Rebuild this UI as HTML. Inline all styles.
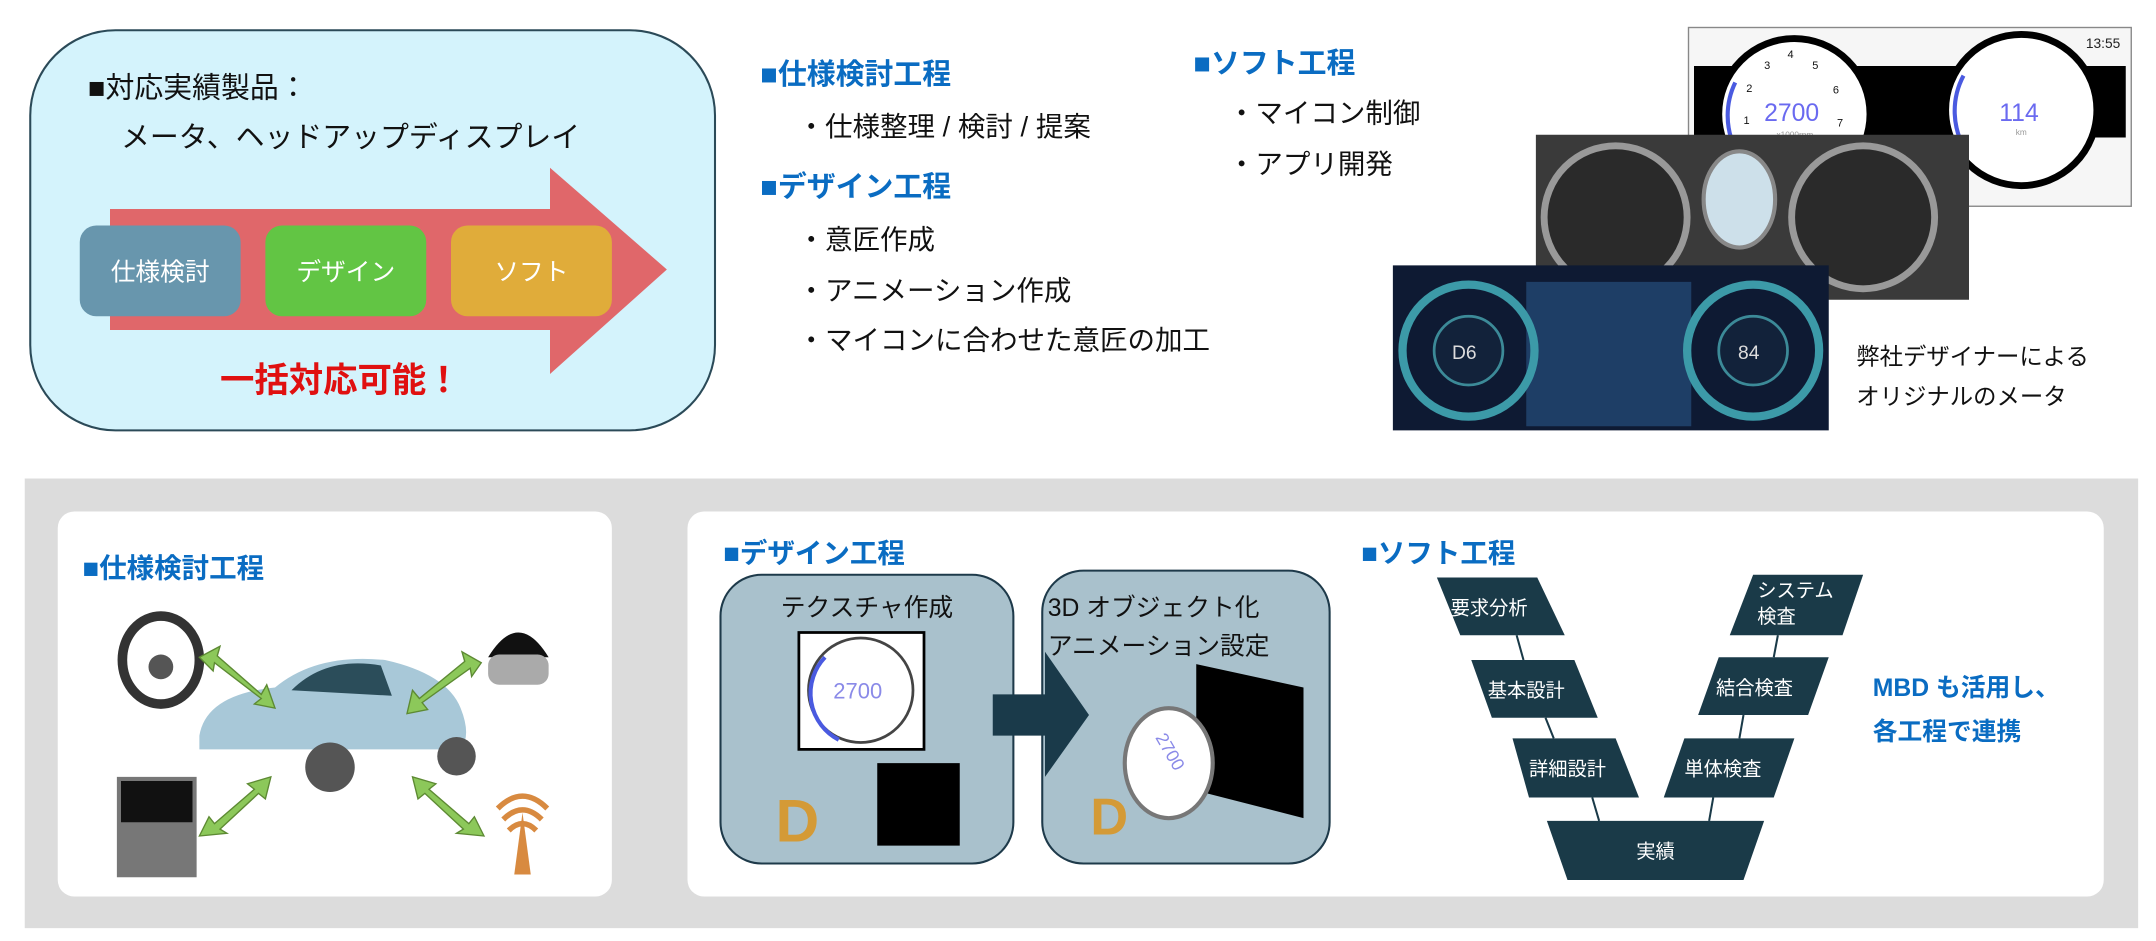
<!DOCTYPE html>
<html><head><meta charset="utf-8"><style>
body{margin:0;width:2156px;height:940px;overflow:hidden;background:#fff;font-family:"Liberation Sans","Noto Sans CJK JP",sans-serif}
#w{position:absolute;left:0;top:0;width:1568px;height:684px;transform:scale(1.375);transform-origin:0 0}
.a{position:absolute;white-space:nowrap}
.h{color:#0a6cc2;font-weight:bold;font-size:21px}
.t{font-size:20px;color:#111}
</style></head><body><div id="w">
<svg class="a" style="left:0;top:0" width="1568" height="684">
<rect x="22" y="22" width="498" height="291" rx="62" fill="#d4f3fc" stroke="#2b4a58" stroke-width="1.5"/>
<polygon points="80,152 400,152 400,122 485,196 400,272 400,240 80,240" fill="#e0676a"/>
<rect x="58" y="164" width="117" height="66" rx="12" fill="#6896ad"/>
<rect x="193" y="164" width="117" height="66" rx="12" fill="#62c544"/>
<rect x="328" y="164" width="117" height="66" rx="12" fill="#e0ac3a"/>
<!-- dashboards -->
<rect x="1228" y="20" width="322" height="130" fill="#f6f6f6" stroke="#888"/>
<rect x="1232" y="48" width="314" height="52" fill="#000"/>
<circle cx="1305" cy="83" r="55" fill="#fff" stroke="#000" stroke-width="5"/>
<path d="M1262,60 a55,55 0 0 0 0,48" stroke="#4a5ae0" stroke-width="3" fill="none"/>
<circle cx="1470" cy="80" r="55" fill="#fff" stroke="#000" stroke-width="5"/>
<path d="M1428,55 a55,55 0 0 0 2,55" stroke="#4a5ae0" stroke-width="3" fill="none"/>
<text x="1283" y="88" font-size="18" fill="#6a6af0">2700</text>
<text x="1292" y="100" font-size="6" fill="#999">x1000rpm</text>
<text x="1454" y="88" font-size="18" fill="#6a6af0">114</text>
<text x="1466" y="98" font-size="6" fill="#999">km</text>
<text x="1517" y="35" font-size="10" fill="#222">13:55</text>
<g font-size="8" fill="#111"><text x="1300" y="42">4</text><text x="1283" y="50">3</text><text x="1318" y="50">5</text><text x="1270" y="67">2</text><text x="1333" y="68">6</text><text x="1268" y="90">1</text><text x="1336" y="92">7</text></g>
<rect x="1117" y="98" width="315" height="120" fill="#3a3a3a"/>
<circle cx="1175" cy="158" r="52" fill="#2a2a2a" stroke="#999" stroke-width="5"/>
<circle cx="1355" cy="158" r="52" fill="#2a2a2a" stroke="#999" stroke-width="5"/>
<ellipse cx="1265" cy="145" rx="26" ry="35" fill="#cde0ea" stroke="#888" stroke-width="3"/>
<rect x="1013" y="193" width="317" height="120" fill="#0e1a33"/>
<rect x="1110" y="205" width="120" height="105" fill="#1e3e66"/>
<circle cx="1068" cy="255" r="48" fill="none" stroke="#3c9aa8" stroke-width="6"/>
<circle cx="1068" cy="255" r="25" fill="#12223a" stroke="#3c8a98" stroke-width="2"/>
<circle cx="1275" cy="255" r="48" fill="none" stroke="#3c9aa8" stroke-width="6"/>
<circle cx="1275" cy="255" r="25" fill="#12223a" stroke="#3c8a98" stroke-width="2"/>
<text x="1056" y="261" font-size="14" fill="#ddd">D6</text>
<text x="1264" y="261" font-size="14" fill="#ddd">84</text>
<!-- bottom -->
<rect x="18" y="348" width="1537" height="327" fill="#dcdcdc"/>
<rect x="42" y="372" width="403" height="280" rx="12" fill="#fff"/>
<rect x="500" y="372" width="1030" height="280" rx="12" fill="#fff"/>
<!-- car & devices -->
<ellipse cx="117" cy="480" rx="28" ry="32" fill="none" stroke="#333" stroke-width="7"/>
<circle cx="117" cy="485" r="9" fill="#555"/>
<path d="M355,478 q22,-36 44,0z" fill="#111"/><rect x="355" y="476" width="44" height="22" rx="8" fill="#aaa"/>
<rect x="85" y="565" width="58" height="73" fill="#777"/><rect x="88" y="568" width="52" height="30" fill="#111"/>
<path d="M374,636 l6,-45 6,45z" fill="#d88a40"/><path d="M366,596 q14,-14 28,0 M370,604 q10,-10 20,0 M362,588 q18,-18 36,0" stroke="#d88a40" stroke-width="4" fill="none"/>
<path d="M145,535 q5,-30 55,-35 q30,-25 80,-20 q45,10 55,35 q8,20 0,30 h-190z" fill="#a8c8d8"/>
<path d="M212,502 q25,-25 65,-18 l8,22z" fill="#2b4d5a"/>
<circle cx="240" cy="558" r="18" fill="#555"/><circle cx="332" cy="550" r="14" fill="#555"/>
<g fill="#8cc85a" stroke="#5d8a33" stroke-width="1">
<polygon points="145,478 160,470 158,477 190,505 194,498 200,515 185,512 190,508 156,482 155,488"/>
<polygon points="350,482 336,474 338,481 305,508 300,502 296,519 311,516 307,511 342,486 343,492"/>
<polygon points="145,608 152,594 156,599 185,574 180,570 197,565 193,581 188,577 160,603 165,606"/>
<polygon points="352,608 345,594 341,599 312,574 317,570 300,565 304,581 309,577 337,603 332,606"/>
</g>
<!-- design -->
<rect x="524" y="418" width="213" height="210" rx="30" fill="#a9c1cc" stroke="#1e3a4a" stroke-width="1.5"/>
<rect x="758" y="415" width="209" height="213" rx="30" fill="#a9c1cc" stroke="#1e3a4a" stroke-width="1.5"/>
<rect x="581" y="460" width="91" height="85" fill="#fff" stroke="#000" stroke-width="2"/>
<circle cx="626" cy="502" r="38" fill="#fff" stroke="#444" stroke-width="2"/>
<path d="M600,478 a38,38 0 0 0 10,60" stroke="#4a5ae0" stroke-width="3" fill="none"/>
<text x="606" y="508" font-size="16" fill="#8a8ae8">2700</text>
<text x="564" y="612" font-size="44" fill="#d49a36" font-weight="bold">D</text>
<rect x="638" y="555" width="60" height="60" fill="#000"/>
<polygon points="722,505 760,505 760,474 792,520 760,565 760,535 722,535" fill="#1a3a4a"/>
<polygon points="870,483 948,500 948,595 870,575" fill="#000"/>
<ellipse cx="850" cy="555" rx="32" ry="40" fill="#fff" stroke="#777" stroke-width="3"/>
<text x="835" y="545" font-size="13" fill="#8a8ae8" transform="rotate(60 845 545)">2700</text>
<text x="793" y="607" font-size="38" fill="#d49a36" font-weight="bold">D</text>
<!-- V -->
<g fill="#1a3a48">
<polygon points="1045,420 1118,420 1138,462 1062,462"/>
<polygon points="1070,480 1145,480 1162,522 1085,522"/>
<polygon points="1100,537 1175,537 1192,580 1112,580"/>
<polygon points="1125,597 1283,597 1268,640 1140,640"/>
<polygon points="1225,537 1305,537 1290,580 1210,580"/>
<polygon points="1250,478 1330,478 1315,520 1235,520"/>
<polygon points="1275,418 1355,418 1340,462 1258,462"/>
</g>
<g stroke="#1a3a48" stroke-width="1.5">
<line x1="1103" y1="462" x2="1108" y2="480"/><line x1="1124" y1="522" x2="1130" y2="537"/><line x1="1158" y1="580" x2="1163" y2="597"/>
<line x1="1243" y1="597" x2="1246" y2="580"/><line x1="1265" y1="537" x2="1268" y2="520"/><line x1="1290" y1="478" x2="1293" y2="462"/>
</g>
</svg>
<div class="a t" style="left:64px;top:48px;font-size:21px">■対応実績製品：</div>
<div class="a t" style="left:88px;top:84px;font-size:21px">メータ、ヘッドアップディスプレイ</div>
<div class="a" style="left:58px;top:184px;width:117px;text-align:center;color:#fff;font-size:18px">仕様検討</div>
<div class="a" style="left:193px;top:184px;width:117px;text-align:center;color:#fff;font-size:18px">デザイン</div>
<div class="a" style="left:328px;top:184px;width:117px;text-align:center;color:#fff;font-size:18px">ソフト</div>
<div class="a" style="left:160px;top:257px;color:#e01010;font-weight:bold;font-size:25px">一括対応可能！</div>
<div class="a h" style="left:553px;top:38px">■仕様検討工程</div>
<div class="a t" style="left:580px;top:76px">・仕様整理 / 検討 / 提案</div>
<div class="a h" style="left:553px;top:120px">■デザイン工程</div>
<div class="a t" style="left:580px;top:158px">・意匠作成</div>
<div class="a t" style="left:580px;top:195px">・アニメーション作成</div>
<div class="a t" style="left:580px;top:231px">・マイコンに合わせた意匠の加工</div>
<div class="a h" style="left:868px;top:30px">■ソフト工程</div>
<div class="a t" style="left:893px;top:66px">・マイコン制御</div>
<div class="a t" style="left:893px;top:103px">・アプリ開発</div>
<div class="a t" style="left:1350px;top:245px;font-size:17px;line-height:29px">弊社デザイナーによる<br>オリジナルのメータ</div>
<div class="a h" style="left:60px;top:397px;font-size:20px">■仕様検討工程</div>
<div class="a h" style="left:526px;top:386px;font-size:20px">■デザイン工程</div>
<div class="a h" style="left:990px;top:386px;font-size:20px">■ソフト工程</div>
<div class="a t" style="left:524px;top:428px;width:213px;text-align:center;font-size:18px">テクスチャ作成</div>
<div class="a t" style="left:762px;top:428px;font-size:18px;line-height:28px">3D オブジェクト化<br>アニメーション設定</div>
<div class="a" style="left:1055px;top:432px;color:#fff;font-size:14px">要求分析</div>
<div class="a" style="left:1082px;top:492px;color:#fff;font-size:14px">基本設計</div>
<div class="a" style="left:1112px;top:549px;color:#fff;font-size:14px">詳細設計</div>
<div class="a" style="left:1190px;top:609px;color:#fff;font-size:14px">実績</div>
<div class="a" style="left:1225px;top:549px;color:#fff;font-size:14px">単体検査</div>
<div class="a" style="left:1248px;top:490px;color:#fff;font-size:14px">結合検査</div>
<div class="a" style="left:1278px;top:420px;color:#fff;font-size:14px;line-height:19px">システム<br>検査</div>
<div class="a h" style="left:1362px;top:484px;font-size:18px;line-height:32px">MBD も活用し、<br>各工程で連携</div>
</div></body></html>
